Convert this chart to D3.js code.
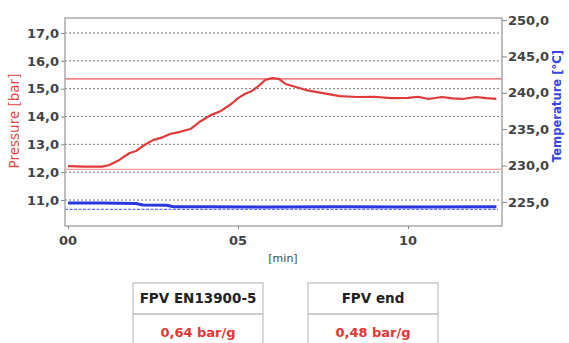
<!DOCTYPE html>
<html><head><meta charset="utf-8">
<script src="https://cdn.jsdelivr.net/npm/d3@7"></script>
<style>body{margin:0;background:#fff;} svg{display:block;font-family:"DejaVu Sans",sans-serif;}</style>
</head><body>
<svg id="c" width="569" height="343"></svg>
<script>
// ---- data ----
const timeMin = [0,0.5,1.0,1.2,1.5,1.8,2.0,2.2,2.5,2.8,3.0,3.3,3.6,3.9,4.2,4.5,4.8,5.0,5.2,5.4,5.6,5.8,6.0,6.2,6.4,6.7,7.0,7.5,8.0,8.5,9.0,9.5,10.0,10.3,10.6,11.0,11.3,11.6,12.0,12.3,12.6];
const pressure = [12.22,12.2,12.2,12.25,12.43,12.68,12.76,12.94,13.15,13.26,13.37,13.45,13.55,13.83,14.05,14.2,14.45,14.66,14.81,14.91,15.09,15.31,15.38,15.35,15.17,15.06,14.95,14.84,14.73,14.7,14.71,14.66,14.67,14.71,14.63,14.7,14.65,14.63,14.7,14.66,14.63];
const tempTime = [0,1.0,2.0,2.2,2.9,3.1,4.0,6.0,8.0,10.0,12.6];
const temperature = [224.85,224.85,224.8,224.6,224.55,224.35,224.35,224.3,224.35,224.3,224.35];
const pressureLimits = [15.35,12.1];
const tempReference = 224.0;
const pressureTicks = [11,12,13,14,15,16,17];
const tempTicks = [225,230,235,240,245,250];
const timeTicks = [0,5,10];
const timeTickLabels = ["00","05","10"];
const tableHeaders = ["FPV EN13900-5","FPV end"];
const tableValues = ["0,64 bar/g","0,48 bar/g"];

const svg = d3.select("#c");
const L=65,R=502,T=18,B=226;
const x = d3.scaleLinear().domain([0,10]).range([68,408]);
const yP = d3.scaleLinear().domain([11,17]).range([200,33]);
const yT = d3.scaleLinear().domain([225,250]).range([202,20]);
const fmt = v => d3.format(".1f")(v).replace(".",",");

// gridlines
svg.append("g").selectAll("line").data(pressureTicks).join("line")
  .attr("x1",L).attr("x2",R).attr("y1",d=>yP(d)).attr("y2",d=>yP(d))
  .attr("stroke","#777").attr("stroke-width",1).attr("stroke-dasharray","2,2");

// limit lines
svg.append("g").selectAll("line").data(pressureLimits).join("line")
  .attr("x1",L).attr("x2",R).attr("y1",d=>yP(d)).attr("y2",d=>yP(d))
  .attr("stroke","#e85a5a").attr("stroke-width",1.2).attr("opacity",(d,i)=>i?0.6:1);

// temp reference
svg.append("line").attr("x1",L).attr("x2",R-4).attr("y1",yT(tempReference)).attr("y2",yT(tempReference))
  .attr("stroke","#6a72f0").attr("stroke-width",1.2).attr("stroke-dasharray","3,1.5");

// temperature line
svg.append("path").datum(tempTime.map((t,i)=>[t,temperature[i]]))
  .attr("d",d3.line().x(d=>x(d[0])).y(d=>yT(d[1])))
  .attr("fill","none").attr("stroke","#2a36e0").attr("stroke-width",3);

// pressure line
svg.append("path").datum(timeMin.map((t,i)=>[t,pressure[i]]))
  .attr("d",d3.line().x(d=>x(d[0])).y(d=>yP(d[1])))
  .attr("fill","none").attr("stroke","#e03a3a").attr("stroke-width",2.2).attr("stroke-linejoin","round");

// frame
svg.append("rect").attr("x",L).attr("y",T).attr("width",R-L).attr("height",B-T)
  .attr("fill","none").attr("stroke","#aaa").attr("stroke-width",1.5);

// left axis
const la = svg.append("g").attr("transform",`translate(${L},0)`)
  .call(d3.axisLeft(yP).tickValues(pressureTicks).tickFormat(fmt).tickSize(4).tickPadding(2));
// right axis
const ra = svg.append("g").attr("transform",`translate(${R},0)`)
  .call(d3.axisRight(yT).tickValues(tempTicks).tickFormat(fmt).tickSize(5).tickPadding(1));
// bottom axis (tick marks only; labels drawn below)
const ba = svg.append("g").attr("transform",`translate(0,${B})`)
  .call(d3.axisBottom(x).tickValues(timeTicks).tickFormat("").tickSize(3));
[la,ra,ba].forEach(g=>{
  g.select(".domain").remove();
  g.selectAll(".tick line").attr("stroke","#888");
  g.selectAll("text").attr("fill","#444").attr("font-size",13).attr("font-weight","bold")
   .attr("font-family","DejaVu Sans, sans-serif");
});
svg.append("g").selectAll("text").data(timeTicks).join("text")
  .attr("x",d=>x(d)).attr("y",B+19).attr("text-anchor","middle")
  .attr("fill","#444").attr("font-size",13).attr("font-weight","bold")
  .text((d,i)=>timeTickLabels[i]);

// axis titles
svg.append("text").attr("transform","translate(19,121) rotate(-90)").attr("text-anchor","middle")
  .attr("fill","#e04848").attr("font-size",13.5).text("Pressure [bar]");
svg.append("text").attr("transform","translate(561,106) rotate(-90)").attr("text-anchor","middle")
  .attr("fill","#3a44e6").attr("font-size",11.6).attr("font-weight","bold").text("Temperature [°C]");
svg.append("text").attr("x",283).attr("y",262).attr("text-anchor","middle")
  .attr("fill","#444").attr("font-size",11).text("[min]");

// tables
const bx = [133,308];
tableHeaders.forEach((h,i)=>{
  const g = svg.append("g").attr("transform",`translate(${bx[i]},283)`);
  g.append("rect").attr("x",0).attr("y",0).attr("width",130).attr("height",80)
    .attr("fill","#fff").attr("stroke","#ccc").attr("stroke-width",1.5);
  g.append("line").attr("x1",0).attr("x2",130).attr("y1",31).attr("y2",31).attr("stroke","#bbb").attr("stroke-width",1.5);
  g.append("text").attr("x",65).attr("y",20).attr("text-anchor","middle")
    .attr("font-size",13.5).attr("font-weight","bold").attr("fill","#222").text(h);
  g.append("text").attr("x",65).attr("y",54).attr("text-anchor","middle")
    .attr("font-size",13).attr("font-weight","bold").attr("fill","#e53535").text(tableValues[i]);
});
</script>
</body></html>
